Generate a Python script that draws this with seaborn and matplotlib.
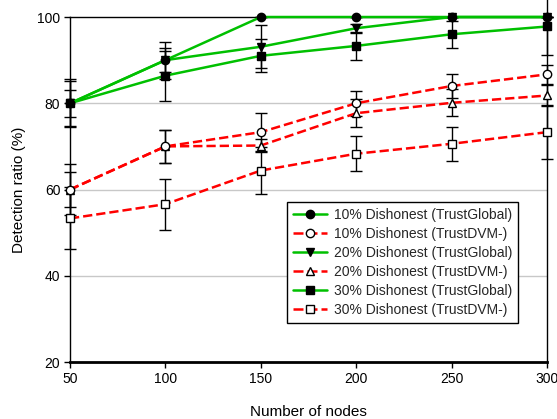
import matplotlib
matplotlib.use("Agg")
import matplotlib.pyplot as plt
import seaborn as sns
import pandas as pd
from matplotlib.lines import Line2D

sns.set_theme(style="white")
plt.rcParams['font.family'] = ['Liberation Sans', 'DejaVu Sans']

nodes = [50, 100, 150, 200, 250, 300]

tg10 = [80, 90, 100, 100, 100, 100]
tg10_err = [3.1, 4.3, 0, 0, 0, 0]
dvm10 = [60, 70, 73.3, 80.0, 84.0, 86.7]
dvm10_err = [4.0, 3.9, 4.4, 2.9, 2.8, 2.2]
tg20 = [80, 90, 93.1, 97.4, 100, 100]
tg20_err = [5.6, 2.7, 5.0, 1.0, 0, 0]
dvm20 = [60, 70, 70.2, 77.7, 80.1, 81.8]
dvm20_err = [6.0, 3.9, 1.5, 3.3, 3.1, 2.4]
tg30 = [80, 86.4, 91.0, 93.3, 96.0, 97.8]
tg30_err = [5.2, 5.8, 3.8, 3.3, 3.1, 6.6]
dvm30 = [53.3, 56.6, 64.4, 68.3, 70.6, 73.3]
dvm30_err = [7.2, 5.9, 5.5, 4.1, 4.0, 6.2]

labels = ["10% Dishonest (TrustGlobal)", "10% Dishonest (TrustDVM-)",
          "20% Dishonest (TrustGlobal)", "20% Dishonest (TrustDVM-)",
          "30% Dishonest (TrustGlobal)", "30% Dishonest (TrustDVM-)"]

GREEN = "#00c000"
RED = "#ff0000"
DASH = (4, 1.6)

series = [
    (tg10, tg10_err, GREEN, "o", True, "-"),
    (dvm10, dvm10_err, RED, "o", False, "--"),
    (tg20, tg20_err, GREEN, "v", True, "-"),
    (dvm20, dvm20_err, RED, "^", False, "--"),
    (tg30, tg30_err, GREEN, "s", True, "-"),
    (dvm30, dvm30_err, RED, "s", False, "--"),
]

fig = plt.figure(figsize=(5.57, 4.19), dpi=100)
ax = fig.add_axes([0.1257, 0.136, 0.8563, 0.8234])

ax.set_xlim(50, 300)
ax.set_ylim(20, 100)
ax.set_yticks([20, 40, 60, 80, 100])
ax.set_xticks(nodes)
for g in [40, 60, 80]:
    ax.axhline(g, color="#c8c8c8", lw=1.0, zorder=0)

# error bars first, so the lines and markers sit on top
for vals, errs, color, mk, filled, ls in series:
    eb = ax.errorbar(nodes, vals, yerr=errs, fmt="none", ecolor="black",
                     elinewidth=1.0, capsize=4, capthick=1.0, zorder=2)
    for art in eb.lines[1]:
        art.set_clip_on(False)
    for art in eb.lines[2]:
        art.set_clip_on(False)

# earlier series are drawn on top of later ones
handles = []
for i, ((vals, errs, color, mk, filled, ls), lab) in enumerate(zip(series, labels)):
    df = pd.DataFrame({"nodes": nodes, "ratio": vals})
    face = "black" if filled else "white"
    sns.lineplot(data=df, x="nodes", y="ratio", ax=ax, color=color,
                 linewidth=1.8, linestyle=ls, marker=mk, markersize=6,
                 markerfacecolor=face, markeredgecolor="black",
                 markeredgewidth=1.0, zorder=4 - 0.1 * i, clip_on=False,
                 dashes=DASH if ls == "--" else "", legend=False)
    handles.append(Line2D([], [], color=color, lw=1.8,
                          linestyle=(0, DASH) if ls == "--" else "-",
                          marker=mk, markersize=6, markerfacecolor=face,
                          markeredgecolor="black", markeredgewidth=1.0))

for s in ax.spines.values():
    s.set_color("black")
    s.set_linewidth(1.0)
ax.spines["bottom"].set_linewidth(2.0)

ax.tick_params(axis="both", direction="out", length=4, width=1,
               color="black", labelsize=10, labelcolor="black", pad=3,
               bottom=True, left=True)
ax.set_xlabel("Number of nodes", fontsize=11, labelpad=14, color="black")
ax.set_ylabel("Detection ratio (%)", fontsize=11, labelpad=8, color="black")

leg = ax.legend(handles, labels, loc="upper left",
                bbox_to_anchor=(0.455, 0.465), borderaxespad=0,
                fontsize=10, frameon=True, fancybox=False,
                handlelength=2.4, handletextpad=0.5, labelspacing=0.36,
                borderpad=0.45)
leg.set_zorder(10)
leg.get_frame().set_edgecolor("black")
leg.get_frame().set_linewidth(1.0)
leg.get_frame().set_facecolor("white")
leg.get_frame().set_alpha(1)

fig.savefig("out.png", dpi=100)
